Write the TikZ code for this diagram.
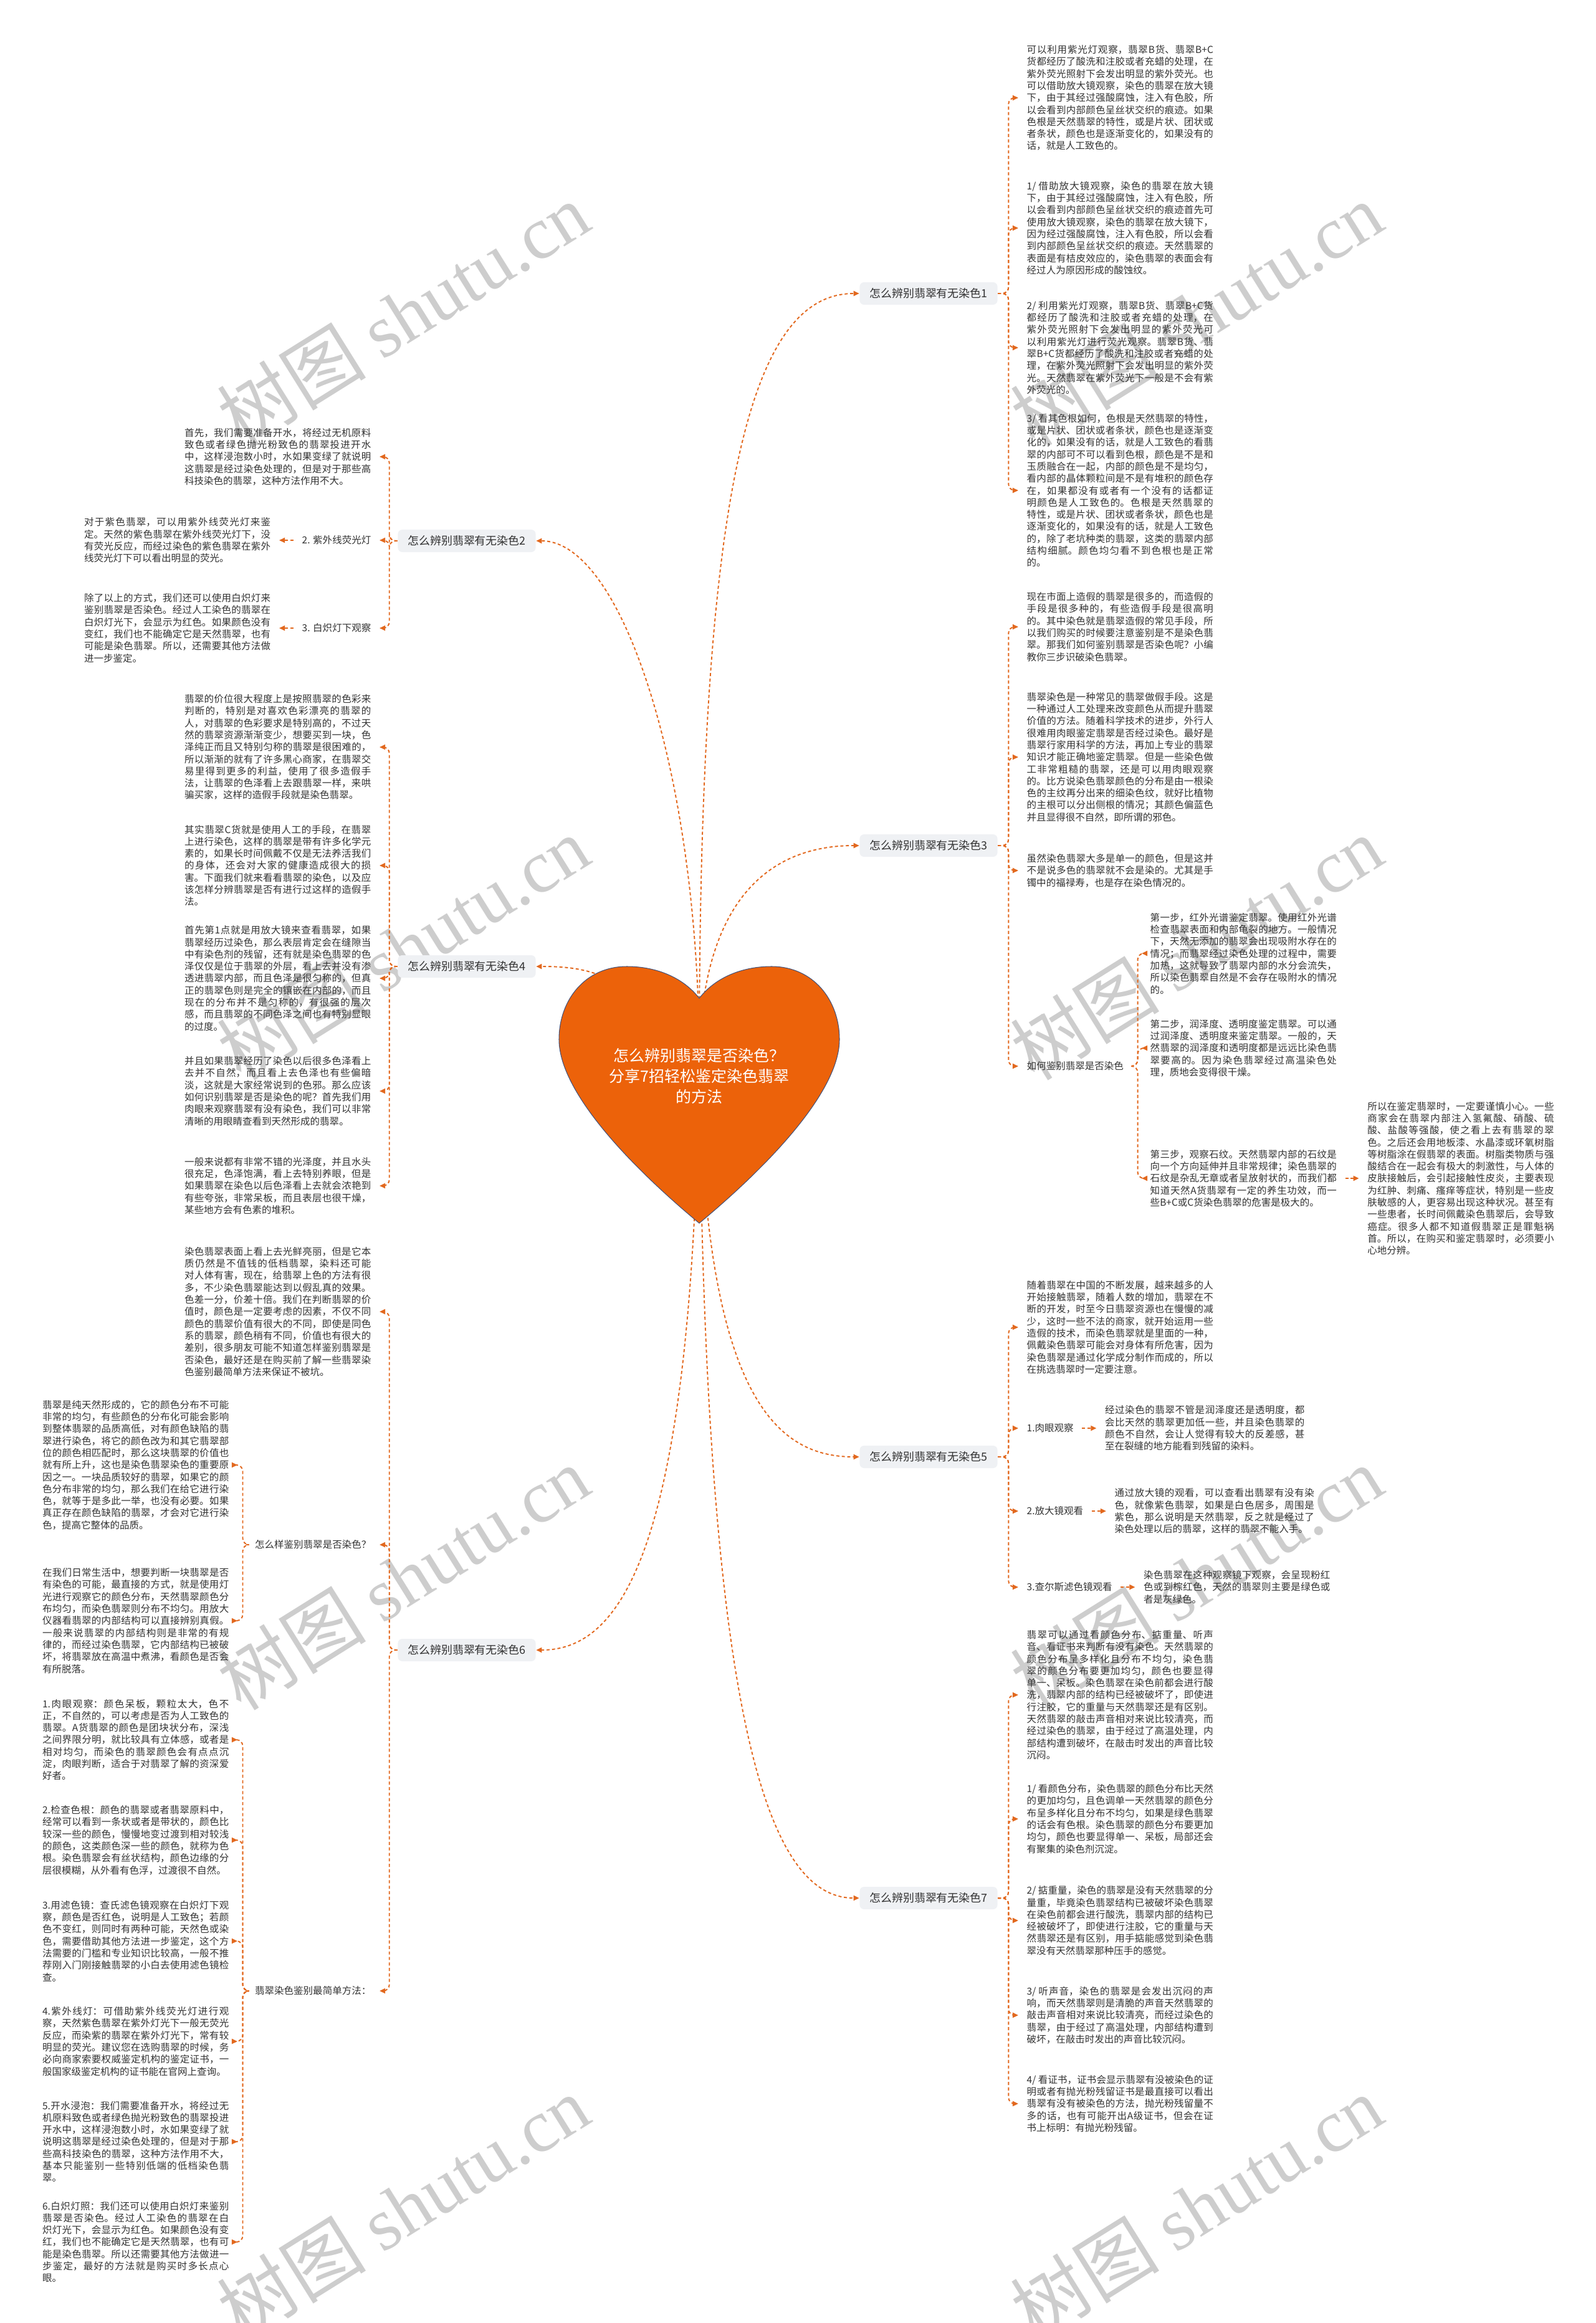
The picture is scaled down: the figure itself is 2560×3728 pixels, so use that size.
\documentclass[tikz,border=0pt]{standalone}
\usepackage{fontspec}
\setmainfont{Noto Sans CJK SC}
\newfontfamily\wmfont{Liberation Serif}
\usepackage{xcolor}
\usepackage{tikz}
\usetikzlibrary{arrows.meta, positioning}
\XeTeXlinebreaklocale "zh"
\XeTeXlinebreakskip=0pt plus 1pt
\definecolor{accent}{RGB}{226,104,30}
\definecolor{heartfill}{RGB}{236,98,10}
\definecolor{heartline}{RGB}{70,82,120}
\definecolor{light}{RGB}{239,241,244}
\definecolor{ink}{RGB}{50,50,50}
\definecolor{wmgray}{RGB}{205,205,205}

\begin{document}
\begin{tikzpicture}[x=0.01cm, y=-0.01cm,
  txt/.style={font=\fontsize{4.41pt}{5.49pt}\selectfont, text=ink, text width=2.99cm,
              align=justify, inner xsep=0.13cm, inner ysep=0},
  sub/.style={font=\fontsize{4.41pt}{5.49pt}\selectfont, text=ink, inner xsep=0.13cm, inner ysep=0},
  branch/.style={rectangle, rounded corners=0.07cm, fill=light, text=ink,
                 font=\fontsize{5.1pt}{6pt}\selectfont, minimum width=2.21cm,
                 minimum height=0.36cm, inner sep=0},
  wm/.style={text=wmgray, rotate=32, font=\fontsize{34pt}{36pt}\selectfont},
  a/.style={draw=accent, line width=0.55pt, dash pattern=on 1.4pt off 1.1pt,
            rounded corners=0.1cm, -{Triangle[length=2.6pt, width=2.3pt]}}]
  \useasboundingbox (0,0) rectangle (2560,3728);

  % watermarks
  \foreach \wy in {504,1521,2532,3542}{
    \node[wm] at (647,\wy) {树图 {\wmfont shutu.cn}};
    \node[wm] at (1920,\wy) {树图 {\wmfont shutu.cn}};
  }

  % branches
  \node[branch] (b1) at (1490,471) {怎么辨别翡翠有无染色1};
  \node[branch] (b3) at (1490,1357) {怎么辨别翡翠有无染色3};
  \node[branch] (b5) at (1490,2338) {怎么辨别翡翠有无染色5};
  \node[branch] (b7) at (1490,3046) {怎么辨别翡翠有无染色7};
  \node[branch] (b2) at (749,868) {怎么辨别翡翠有无染色2};
  \node[branch] (b4) at (749,1551) {怎么辨别翡翠有无染色4};
  \node[branch] (b6) at (749,2648) {怎么辨别翡翠有无染色6};

  % branch 1
  \node[txt, anchor=west] (r1a) at (1634,157) {可以利用紫光灯观察，翡翠B货、翡翠B+C货都经历了酸洗和注胶或者充蜡的处理，在紫外荧光照射下会发出明显的紫外荧光。也可以借助放大镜观察，染色的翡翠在放大镜下，由于其经过强酸腐蚀，注入有色胶，所以会看到内部颜色呈丝状交织的痕迹。如果色根是天然翡翠的特性，或是片状、团状或者条状，颜色也是逐渐变化的，如果没有的话，就是人工致色的。};
  \node[txt, anchor=west] (r1b) at (1634,366) {1/ 借助放大镜观察，染色的翡翠在放大镜下，由于其经过强酸腐蚀，注入有色胶，所以会看到内部颜色呈丝状交织的痕迹首先可使用放大镜观察，染色的翡翠在放大镜下，因为经过强酸腐蚀，注入有色胶，所以会看到内部颜色呈丝状交织的痕迹。天然翡翠的表面是有桔皮效应的，染色翡翠的表面会有经过人为原因形成的酸蚀纹。};
  \node[txt, anchor=west] (r1c) at (1634,558) {2/ 利用紫光灯观察，翡翠B货、翡翠B+C货都经历了酸洗和注胶或者充蜡的处理，在紫外荧光照射下会发出明显的紫外荧光可以利用紫光灯进行荧光观察。翡翠B货、翡翠B+C货都经历了酸洗和注胶或者充蜡的处理，在紫外荧光照射下会发出明显的紫外荧光。天然翡翠在紫外荧光下一般是不会有紫外荧光的。};
  \node[txt, anchor=west] (r1d) at (1634,787) {3/ 看其色根如何，色根是天然翡翠的特性，或是片状、团状或者条状，颜色也是逐渐变化的，如果没有的话，就是人工致色的看翡翠的内部可不可以看到色根，颜色是不是和玉质融合在一起，内部的颜色是不是均匀，看内部的晶体颗粒间是不是有堆积的颜色存在，如果都没有或者有一个没有的话都证明颜色是人工致色的。色根是天然翡翠的特性，或是片状、团状或者条状，颜色也是逐渐变化的，如果没有的话，就是人工致色的，除了老坑种类的翡翠，这类的翡翠内部结构细腻。颜色均匀看不到色根也是正常的。};

  % branch 3
  \node[txt, anchor=west] (r3a) at (1634,1006) {现在市面上造假的翡翠是很多的，而造假的手段是很多种的，有些造假手段是很高明的。其中染色就是翡翠造假的常见手段，所以我们购买的时候要注意鉴别是不是染色翡翠。那我们如何鉴别翡翠是否染色呢？小编教你三步识破染色翡翠。};
  \node[txt, anchor=west] (r3b) at (1634,1215) {翡翠染色是一种常见的翡翠做假手段。这是一种通过人工处理来改变颜色从而提升翡翠价值的方法。随着科学技术的进步，外行人很难用肉眼鉴定翡翠是否经过染色。最好是翡翠行家用科学的方法，再加上专业的翡翠知识才能正确地鉴定翡翠。但是一些染色做工非常粗糙的翡翠，还是可以用肉眼观察的。比方说染色翡翠颜色的分布是由一根染色的主纹再分出来的细染色纹，就好比植物的主根可以分出侧根的情况；其颜色偏蓝色并且显得很不自然，即所谓的邪色。};
  \node[txt, anchor=west] (r3c) at (1634,1397) {虽然染色翡翠大多是单一的颜色，但是这并不是说多色的翡翠就不会是染的。尤其是手镯中的福禄寿，也是存在染色情况的。};
  \node[sub, anchor=west] (s3) at (1634,1711) {如何鉴别翡翠是否染色};
  \node[txt, anchor=west] (st1) at (1832,1530) {第一步，红外光谱鉴定翡翠。使用红外光谱检查翡翠表面和内部龟裂的地方。一般情况下，天然无添加的翡翠会出现吸附水存在的情况；而翡翠经过染色处理的过程中，需要加热，这就导致了翡翠内部的水分会流失，所以染色翡翠自然是不会存在吸附水的情况的。};
  \node[txt, anchor=west] (st2) at (1832,1682) {第二步，润泽度、透明度鉴定翡翠。可以通过润泽度、透明度来鉴定翡翠。一般的，天然翡翠的润泽度和透明度都是远远比染色翡翠要高的。因为染色翡翠经过高温染色处理，质地会变得很干燥。};
  \node[txt, anchor=west] (st3) at (1832,1891) {第三步，观察石纹。天然翡翠内部的石纹是向一个方向延伸并且非常规律；染色翡翠的石纹是杂乱无章或者呈放射状的，而我们都知道天然A货翡翠有一定的养生功效，而一些B+C或C货染色翡翠的危害是极大的。};
  \node[txt, right=0.22cm of st3] (fin) {所以在鉴定翡翠时，一定要谨慎小心。一些商家会在翡翠内部注入氢氟酸、硝酸、硫酸、盐酸等强酸，使之看上去有翡翠的翠色。之后还会用地板漆、水晶漆或环氧树脂等树脂涂在假翡翠的表面。树脂类物质与强酸结合在一起会有极大的刺激性，与人体的皮肤接触后，会引起接触性皮炎，主要表现为红肿、刺痛、瘙痒等症状，特别是一些皮肤敏感的人，更容易出现这种状况。甚至有一些患者，长时间佩戴染色翡翠后，会导致癌症。很多人都不知道假翡翠正是罪魁祸首。所以，在购买和鉴定翡翠时，必须要小心地分辨。};

  % branch 5
  \node[txt, anchor=west] (r5a) at (1634,2130) {随着翡翠在中国的不断发展，越来越多的人开始接触翡翠，随着人数的增加，翡翠在不断的开发，时至今日翡翠资源也在慢慢的减少，这时一些不法的商家，就开始运用一些造假的技术，而染色翡翠就是里面的一种，佩戴染色翡翠可能会对身体有所危害，因为染色翡翠是通过化学成分制作而成的，所以在挑选翡翠时一定要注意。};
  \node[sub, anchor=west] (s5a) at (1634,2292) {1.肉眼观察};
  \node[sub, anchor=west] (s5b) at (1634,2425) {2.放大镜观看};
  \node[sub, anchor=west] (s5c) at (1634,2547) {3.查尔斯滤色镜观看};
  \node[txt, text width=3.2cm, right=0.23cm of s5a] (r5b) {经过染色的翡翠不管是润泽度还是透明度，都会比天然的翡翠更加低一些，并且染色翡翠的颜色不自然，会让人觉得有较大的反差感，甚至在裂缝的地方能看到残留的染料。};
  \node[txt, text width=3.2cm, right=0.23cm of s5b] (r5c) {通过放大镜的观看，可以查看出翡翠有没有染色，就像紫色翡翠，如果是白色居多，周围是紫色，那么说明是天然翡翠，反之就是经过了染色处理以后的翡翠，这样的翡翠不能入手。};
  \node[txt, right=0.23cm of s5c] (r5d) {染色翡翠在这种观察镜下观察，会呈现粉红色或到棕红色，天然的翡翠则主要是绿色或者是灰绿色。};

  % branch 7
  \node[txt, anchor=west] (r7a) at (1634,2720) {翡翠可以通过看颜色分布、掂重量、听声音、看证书来判断有没有染色。天然翡翠的颜色分布呈多样化且分布不均匀，染色翡翠的颜色分布要更加均匀，颜色也要显得单一、呆板。染色翡翠在染色前都会进行酸洗，翡翠内部的结构已经被破坏了，即使进行注胶，它的重量与天然翡翠还是有区别。天然翡翠的敲击声音相对来说比较清亮，而经过染色的翡翠，由于经过了高温处理，内部结构遭到破坏，在敲击时发出的声音比较沉闷。};
  \node[txt, anchor=west] (r7b) at (1634,2919) {1/ 看颜色分布，染色翡翠的颜色分布比天然的更加均匀，且色调单一天然翡翠的颜色分布呈多样化且分布不均匀，如果是绿色翡翠的话会有色根。染色翡翠的颜色分布要更加均匀，颜色也要显得单一、呆板，局部还会有聚集的染色剂沉淀。};
  \node[txt, anchor=west] (r7c) at (1634,3082) {2/ 掂重量，染色的翡翠是没有天然翡翠的分量重，毕竟染色翡翠结构已被破坏染色翡翠在染色前都会进行酸洗，翡翠内部的结构已经被破坏了，即使进行注胶，它的重量与天然翡翠还是有区别，用手掂能感觉到染色翡翠没有天然翡翠那种压手的感觉。};
  \node[txt, anchor=west] (r7d) at (1634,3234) {3/ 听声音，染色的翡翠是会发出沉闷的声响，而天然翡翠则是清脆的声音天然翡翠的敲击声音相对来说比较清亮，而经过染色的翡翠，由于经过了高温处理，内部结构遭到破坏，在敲击时发出的声音比较沉闷。};
  \node[txt, anchor=west] (r7e) at (1634,3376) {4/ 看证书，证书会显示翡翠有没被染色的证明或者有抛光粉残留证书是最直接可以看出翡翠有没有被染色的方法，抛光粉残留量不多的话，也有可能开出A级证书，但会在证书上标明：有抛光粉残留。};

  % branch 2
  \node[txt, anchor=east] (l2a) at (609,733) {首先，我们需要准备开水，将经过无机原料致色或者绿色抛光粉致色的翡翠投进开水中，这样浸泡数小时，水如果变绿了就说明这翡翠是经过染色处理的，但是对于那些高科技染色的翡翠，这种方法作用不大。};
  \node[sub, anchor=east] (s2a) at (609,867) {2. 紫外线荧光灯};
  \node[sub, anchor=east] (s2b) at (609,1008) {3. 白炽灯下观察};
  \node[txt, left=0.23cm of s2a] (l2b) {对于紫色翡翠，可以用紫外线荧光灯来鉴定。天然的紫色翡翠在紫外线荧光灯下，没有荧光反应，而经过染色的紫色翡翠在紫外线荧光灯下可以看出明显的荧光。};
  \node[txt, left=0.23cm of s2b] (l2c) {除了以上的方式，我们还可以使用白炽灯来鉴别翡翠是否染色。经过人工染色的翡翠在白炽灯光下，会显示为红色。如果颜色没有变红，我们也不能确定它是天然翡翠，也有可能是染色翡翠。所以，还需要其他方法做进一步鉴定。};

  % branch 4
  \node[txt, anchor=east] (l4a) at (609,1199) {翡翠的价位很大程度上是按照翡翠的色彩来判断的，特别是对喜欢色彩漂亮的翡翠的人，对翡翠的色彩要求是特别高的，不过天然的翡翠资源渐渐变少，想要买到一块，色泽纯正而且又特别匀称的翡翠是很困难的，所以渐渐的就有了许多黑心商家，在翡翠交易里得到更多的利益，使用了很多造假手法，让翡翠的色泽看上去跟翡翠一样，来哄骗买家，这样的造假手段就是染色翡翠。};
  \node[txt, anchor=east] (l4b) at (609,1389) {其实翡翠C货就是使用人工的手段，在翡翠上进行染色，这样的翡翠是带有许多化学元素的，如果长时间佩戴不仅是无法养活我们的身体，还会对大家的健康造成很大的损害。下面我们就来看看翡翠的染色，以及应该怎样分辨翡翠是否有进行过这样的造假手法。};
  \node[txt, anchor=east] (l4c) at (609,1570) {首先第1点就是用放大镜来查看翡翠，如果翡翠经历过染色，那么表层肯定会在缝隙当中有染色剂的残留，还有就是染色翡翠的色泽仅仅是位于翡翠的外层，看上去并没有渗透进翡翠内部，而且色泽是很匀称的，但真正的翡翠色则是完全的镶嵌在内部的，而且现在的分布并不是匀称的，有很强的层次感，而且翡翠的不同色泽之间也有特别显眼的过度。};
  \node[txt, anchor=east] (l4d) at (609,1751) {并且如果翡翠经历了染色以后很多色泽看上去并不自然，而且看上去色泽也有些偏暗淡，这就是大家经常说到的色邪。那么应该如何识别翡翠是否是染色的呢？首先我们用肉眼来观察翡翠有没有染色，我们可以非常清晰的用眼睛查看到天然形成的翡翠。};
  \node[txt, anchor=east] (l4e) at (609,1903) {一般来说都有非常不错的光泽度，并且水头很充足，色泽饱满，看上去特别养眼，但是如果翡翠在染色以后色泽看上去就会浓艳到有些夸张，非常呆板，而且表层也很干燥，某些地方会有色素的堆积。};

  % branch 6
  \node[txt, anchor=east] (l6a) at (609,2105) {染色翡翠表面上看上去光鲜亮丽，但是它本质仍然是不值钱的低档翡翠，染料还可能对人体有害，现在，给翡翠上色的方法有很多，不少染色翡翠能达到以假乱真的效果。色差一分，价差十倍。我们在判断翡翠的价值时，颜色是一定要考虑的因素，不仅不同颜色的翡翠价值有很大的不同，即使是同色系的翡翠，颜色稍有不同，价值也有很大的差别，很多朋友可能不知道怎样鉴别翡翠是否染色，最好还是在购买前了解一些翡翠染色鉴别最简单方法来保证不被坑。};
  \node[sub, anchor=east] (s6a) at (609,2479) {怎么样鉴别翡翠是否染色？};
  \node[sub, anchor=east] (s6b) at (609,3195) {翡翠染色鉴别最简单方法：};
  \node[txt, anchor=east] (l6s1) at (381,2351) {翡翠是纯天然形成的，它的颜色分布不可能非常的均匀，有些颜色的分布化可能会影响到整体翡翠的品质高低，对有颜色缺陷的翡翠进行染色，将它的颜色改为和其它翡翠部位的颜色相匹配时，那么这块翡翠的价值也就有所上升，这也是染色翡翠染色的重要原因之一。一块品质较好的翡翠，如果它的颜色分布非常的均匀，那么我们在给它进行染色，就等于是多此一举，也没有必要。如果真正存在颜色缺陷的翡翠，才会对它进行染色，提高它整体的品质。};
  \node[txt, anchor=east] (l6s2) at (381,2601) {在我们日常生活中，想要判断一块翡翠是否有染色的可能，最直接的方式，就是使用灯光进行观察它的颜色分布，天然翡翠颜色分布均匀，而染色翡翠则分布不均匀。用放大仪器看翡翠的内部结构可以直接辨别真假。一般来说翡翠的内部结构则是非常的有规律的，而经过染色翡翠，它内部结构已被破坏，将翡翠放在高温中煮沸，看颜色是否会有所脱落。};
  \node[txt, anchor=east] (l6t1) at (381,2792) {1.肉眼观察：颜色呆板，颗粒太大，色不正，不自然的，可以考虑是否为人工致色的翡翠。A货翡翠的颜色是团块状分布，深浅之间界限分明，就比较具有立体感，或者是相对均匀，而染色的翡翠颜色会有点点沉淀，肉眼判断，适合于对翡翠了解的资深爱好者。};
  \node[txt, anchor=east] (l6t2) at (381,2953) {2.检查色根：颜色的翡翠或者翡翠原料中，经常可以看到一条状或者是带状的，颜色比较深一些的颜色，慢慢地变过渡到相对较浅的颜色，这类颜色深一些的颜色，就称为色根。染色翡翠会有丝状结构，颜色边缘的分层很模糊，从外看有色浮，过渡很不自然。};
  \node[txt, anchor=east] (l6t3) at (381,3115) {3.用滤色镜：查氏滤色镜观察在白炽灯下观察，颜色是否红色，说明是人工致色；若颜色不变红，则同时有两种可能，天然色或染色，需要借助其他方法进一步鉴定，这个方法需要的门槛和专业知识比较高，一般不推荐刚入门刚接触翡翠的小白去使用滤色镜检查。};
  \node[txt, anchor=east] (l6t4) at (381,3276) {4.紫外线灯：可借助紫外线荧光灯进行观察，天然紫色翡翠在紫外灯光下一般无荧光反应，而染紫的翡翠在紫外灯光下，常有较明显的荧光。建议您在选购翡翠的时候，务必向商家索要权威鉴定机构的鉴定证书，一般国家级鉴定机构的证书能在官网上查询。};
  \node[txt, anchor=east] (l6t5) at (381,3437) {5.开水浸泡：我们需要准备开水，将经过无机原料致色或者绿色抛光粉致色的翡翠投进开水中，这样浸泡数小时，水如果变绿了就说明这翡翠是经过染色处理的，但是对于那些高科技染色的翡翠，这种方法作用不大，基本只能鉴别一些特别低端的低档染色翡翠。};
  \node[txt, anchor=east] (l6t6) at (381,3598) {6.白炽灯照：我们还可以使用白炽灯来鉴别翡翠是否染色。经过人工染色的翡翠在白炽灯光下，会显示为红色。如果颜色没有变红，我们也不能确定它是天然翡翠，也有可能是染色翡翠。所以还需要其他方法做进一步鉴定，最好的方法就是购买时多长点心眼。};

  % centre connectors (heart drawn on top)
  \coordinate (hc) at (1122,1700);
  \draw[a] (hc) .. controls (1122,800) and (1200,471) .. (b1.west);
  \draw[a] (hc) .. controls (1122,1250) and (1000,868) .. (b2.east);
  \draw[a] (hc) .. controls (1125,1450) and (1230,1357) .. (b3.west);
  \draw[a] (hc) .. controls (1010,1570) and (960,1551) .. (b4.east);
  \draw[a] (hc) .. controls (1128,2250) and (1250,2338) .. (b5.west);
  \draw[a] (hc) .. controls (1112,2480) and (1000,2648) .. (b6.east);
  \draw[a] (hc) .. controls (1130,2800) and (1240,3046) .. (b7.west);

  % right side links
  \foreach \c in {r1a,r1b,r1c,r1d}
    \draw[a] (b1.east) -- ++(17,0) |- (\c.west);
  \foreach \c in {r3a,r3b,r3c,s3}
    \draw[a] (b3.east) -- ++(17,0) |- (\c.west);
  \foreach \c in {st1,st2,st3}
    \draw[a] (s3.east) -- ++(9,0) |- (\c.west);
  \draw[a] (st3) -- (fin);
  \foreach \c in {r5a,s5a,s5b,s5c}
    \draw[a] (b5.east) -- ++(17,0) |- (\c.west);
  \draw[a] (s5a) -- (r5b);
  \draw[a] (s5b) -- (r5c);
  \draw[a] (s5c) -- (r5d);
  \foreach \c in {r7a,r7b,r7c,r7d,r7e}
    \draw[a] (b7.east) -- ++(17,0) |- (\c.west);

  % left side links
  \foreach \c in {l2a,s2a,s2b}
    \draw[a] (b2.west) -- ++(-13,0) |- (\c.east);
  \draw[a] (s2a) -- (l2b);
  \draw[a] (s2b) -- (l2c);
  \foreach \c in {l4a,l4b,l4c,l4d,l4e}
    \draw[a] (b4.west) -- ++(-13,0) |- (\c.east);
  \foreach \c in {l6a,s6a,s6b}
    \draw[a] (b6.west) -- ++(-13,0) |- (\c.east);
  \foreach \c in {l6s1,l6s2}
    \draw[a] (s6a.west) -- ++(-6,0) |- (\c.east);
  \foreach \c in {l6t1,l6t2,l6t3,l6t4,l6t5,l6t6}
    \draw[a] (s6b.west) -- ++(-6,0) |- (\c.east);

  % heart
  \path[fill=heartfill, draw=heartline, line width=0.3pt]
    (1122,1602) .. controls (1150,1566) and (1195,1551) .. (1238,1551)
    .. controls (1305,1551) and (1347,1605) .. (1347,1668)
    .. controls (1347,1760) and (1210,1890) .. (1122,1963)
    .. controls (1034,1890) and (897,1760) .. (897,1668)
    .. controls (897,1605) and (939,1551) .. (1006,1551)
    .. controls (1049,1551) and (1094,1566) .. (1122,1602) -- cycle;
  \node[text=white, align=center, font=\fontsize{7.1pt}{9.4pt}\selectfont] (title) at (1122,1727)
    {怎么辨别翡翠是否染色？\\分享7招轻松鉴定染色翡翠\\的方法};
\end{tikzpicture}
\end{document}
